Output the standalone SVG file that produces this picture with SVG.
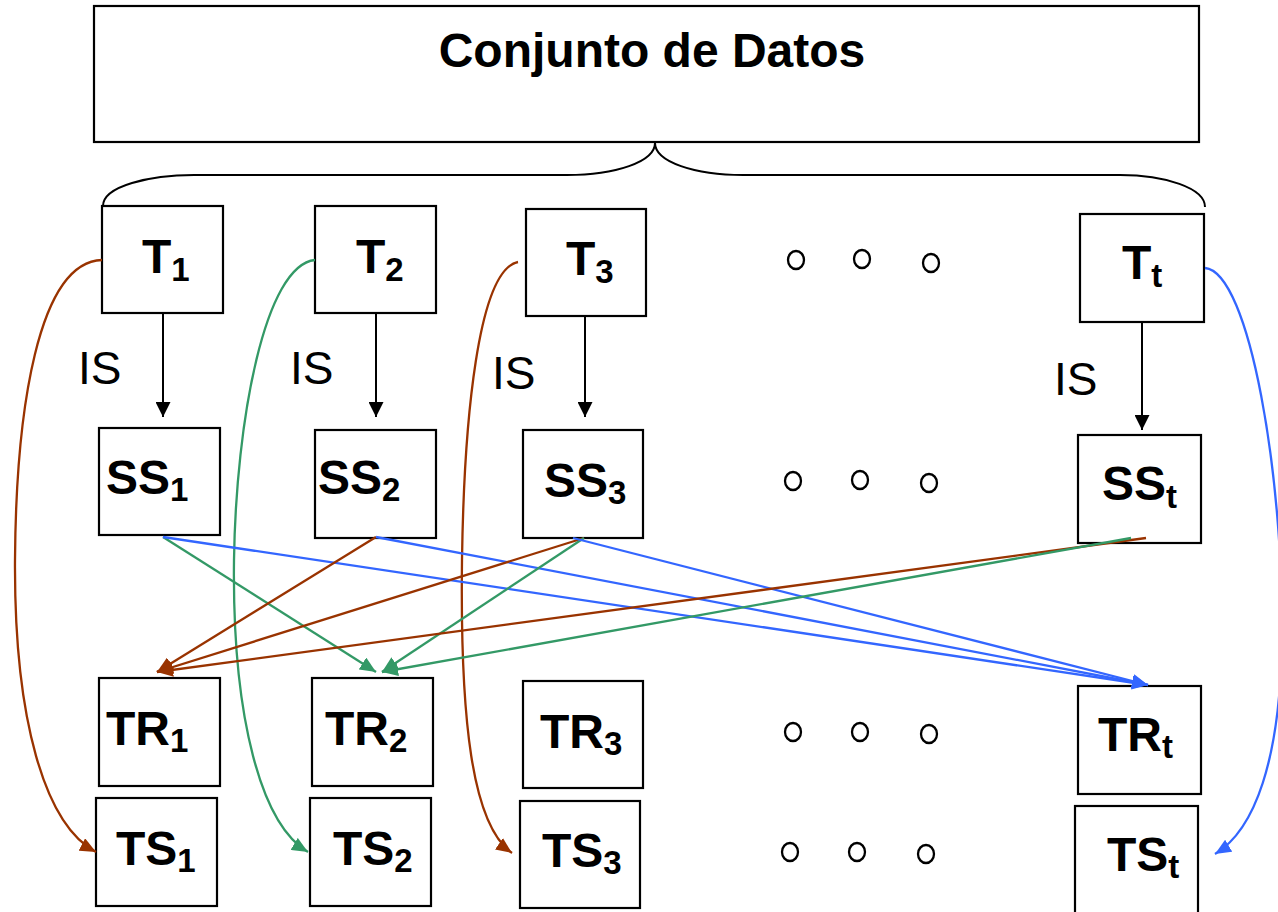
<svg xmlns="http://www.w3.org/2000/svg" width="1278" height="912" viewBox="0 0 1278 912">
<style>
.box{fill:#fff;stroke:#000;stroke-width:2.2}
.lbl{font-family:"Liberation Sans",Arial,sans-serif;font-weight:bold;font-size:48px;fill:#000}
.sub{font-size:33px}
.is{font-family:"Liberation Sans",Arial,sans-serif;font-size:46px;fill:#000}
.dot{fill:none;stroke:#000;stroke-width:2.3}
.k{stroke:#000;stroke-width:2;fill:none}
.br{stroke:#993300;stroke-width:2.3;fill:none}
.gr{stroke:#339966;stroke-width:2.3;fill:none}
.bl{stroke:#3366FF;stroke-width:2.3;fill:none}
</style>
<defs>
<marker id="ak" markerUnits="userSpaceOnUse" markerWidth="15" markerHeight="15" refX="15" refY="7.5" orient="auto"><path d="M0,0 L15,7.5 L0,15 z" fill="#000"/></marker>
<marker id="abr" markerUnits="userSpaceOnUse" markerWidth="16" markerHeight="14" refX="16" refY="7" orient="auto"><path d="M0,0 L16,7 L0,14 z" fill="#993300"/></marker>
<marker id="agr" markerUnits="userSpaceOnUse" markerWidth="16" markerHeight="14" refX="16" refY="7" orient="auto"><path d="M0,0 L16,7 L0,14 z" fill="#339966"/></marker>
<marker id="abl" markerUnits="userSpaceOnUse" markerWidth="16" markerHeight="14" refX="16" refY="7" orient="auto"><path d="M0,0 L16,7 L0,14 z" fill="#3366FF"/></marker>
</defs>

<g id="dataset">
<rect class="box" x="94" y="6" width="1105" height="136"/>
<text class="lbl" x="652" y="67" text-anchor="middle">Conjunto de Datos</text>
</g>
<g id="brace">
<path class="k" d="M103,206 C103,186 150,175 194,175 L567,175 C615,175 655,162 655,143 C655,162 695,175 743,175 L1120,175 C1165,175 1205,188 1205,207"/>
</g>

<g id="T1"><rect class="box" x="102" y="206" width="121" height="107"/><text class="lbl" x="142" y="273">T<tspan class="sub" dy="8">1</tspan></text></g>
<g id="T2"><rect class="box" x="315" y="206" width="121" height="107"/><text class="lbl" x="356" y="273">T<tspan class="sub" dy="8">2</tspan></text></g>
<g id="T3"><rect class="box" x="526" y="209" width="120" height="107"/><text class="lbl" x="566" y="275">T<tspan class="sub" dy="8">3</tspan></text></g>
<g id="Tt"><rect class="box" x="1080" y="214" width="124" height="108"/><text class="lbl" x="1122" y="279">T<tspan class="sub" dy="8">t</tspan></text></g>

<g id="SS1"><rect class="box" x="99" y="428" width="121" height="107"/><text class="lbl" x="106" y="494">SS<tspan class="sub" dy="7">1</tspan></text></g>
<g id="SS2"><rect class="box" x="315" y="430" width="121" height="108"/><text class="lbl" x="318" y="494">SS<tspan class="sub" dy="7">2</tspan></text></g>
<g id="SS3"><rect class="box" x="523" y="430" width="120" height="108"/><text class="lbl" x="544" y="497">SS<tspan class="sub" dy="7">3</tspan></text></g>
<g id="SSt"><rect class="box" x="1078" y="435" width="123" height="108"/><text class="lbl" x="1102" y="500">SS<tspan class="sub" dy="8">t</tspan></text></g>

<g id="TR1"><rect class="box" x="99" y="678" width="121" height="108"/><text class="lbl" x="106" y="745">TR<tspan class="sub" dy="7">1</tspan></text></g>
<g id="TR2"><rect class="box" x="312" y="678" width="121" height="108"/><text class="lbl" x="325" y="745">TR<tspan class="sub" dy="7">2</tspan></text></g>
<g id="TR3"><rect class="box" x="523" y="681" width="120" height="107"/><text class="lbl" x="540" y="748">TR<tspan class="sub" dy="7">3</tspan></text></g>
<g id="TRt"><rect class="box" x="1078" y="686" width="123" height="108"/><text class="lbl" x="1098" y="751">TR<tspan class="sub" dy="7">t</tspan></text></g>

<g id="TS1"><rect class="box" x="96" y="798" width="121" height="108"/><text class="lbl" x="116" y="865">TS<tspan class="sub" dy="7">1</tspan></text></g>
<g id="TS2"><rect class="box" x="310" y="798" width="121" height="108"/><text class="lbl" x="333" y="865">TS<tspan class="sub" dy="7">2</tspan></text></g>
<g id="TS3"><rect class="box" x="520" y="801" width="120" height="107"/><text class="lbl" x="542" y="867">TS<tspan class="sub" dy="7">3</tspan></text></g>
<g id="TSt"><rect class="box" x="1075" y="806" width="123" height="114"/><text class="lbl" x="1107" y="871">TS<tspan class="sub" dy="7">t</tspan></text></g>

<g id="ellipses">
<ellipse class="dot" cx="796" cy="260" rx="8" ry="9"/><ellipse class="dot" cx="862" cy="259" rx="8" ry="9"/><ellipse class="dot" cx="931" cy="263" rx="8" ry="9"/>
<ellipse class="dot" cx="793" cy="481" rx="8" ry="9"/><ellipse class="dot" cx="860" cy="480" rx="8" ry="9"/><ellipse class="dot" cx="929" cy="483" rx="8" ry="9"/>
<ellipse class="dot" cx="793" cy="732" rx="8" ry="9"/><ellipse class="dot" cx="860" cy="732" rx="8" ry="9"/><ellipse class="dot" cx="929" cy="734" rx="8" ry="9"/>
<ellipse class="dot" cx="790" cy="852" rx="8" ry="9"/><ellipse class="dot" cx="857" cy="852" rx="8" ry="9"/><ellipse class="dot" cx="926" cy="854" rx="8" ry="9"/>
</g>

<g id="connectors">
<line class="k" x1="163" y1="313" x2="163" y2="417" marker-end="url(#ak)"/>
<line class="k" x1="376" y1="313" x2="376" y2="417" marker-end="url(#ak)"/>
<line class="k" x1="585" y1="316" x2="585" y2="417" marker-end="url(#ak)"/>
<line class="k" x1="1142" y1="322" x2="1142" y2="430" marker-end="url(#ak)"/>
<text class="is" x="78" y="384">IS</text>
<text class="is" x="290" y="384">IS</text>
<text class="is" x="492" y="389">IS</text>
<text class="is" x="1054" y="395">IS</text>

<path class="br" d="M102,260 C38,262 16,410 15,560 C14,720 45,825 96,852" marker-end="url(#abr)"/>
<path class="gr" d="M315,260 C265,265 236,420 234,560 C232,720 262,825 308,852" marker-end="url(#agr)"/>
<path class="br" d="M518,262 C478,270 464,420 462,560 C460,720 472,825 512,853" marker-end="url(#abr)"/>
<path class="bl" d="M1205,268 C1250,272 1284,480 1282,640 C1280,760 1255,830 1215,854" marker-end="url(#abl)"/>

<line class="gr" x1="163" y1="537" x2="376" y2="672" marker-end="url(#agr)"/>
<line class="bl" x1="163" y1="537" x2="1148" y2="685" marker-end="url(#abl)"/>
<line class="br" x1="376" y1="537" x2="157" y2="672" marker-end="url(#abr)"/>
<line class="bl" x1="376" y1="537" x2="1148" y2="685" marker-end="url(#abl)"/>
<line class="br" x1="584" y1="538" x2="157" y2="672" marker-end="url(#abr)"/>
<line class="gr" x1="584" y1="538" x2="382" y2="672" marker-end="url(#agr)"/>
<line class="bl" x1="573" y1="538" x2="1148" y2="685" marker-end="url(#abl)"/>
<line class="br" x1="1146" y1="538" x2="157" y2="672" marker-end="url(#abr)"/>
<line class="gr" x1="1131" y1="538" x2="382" y2="672" marker-end="url(#agr)"/>
</g>
</svg>
